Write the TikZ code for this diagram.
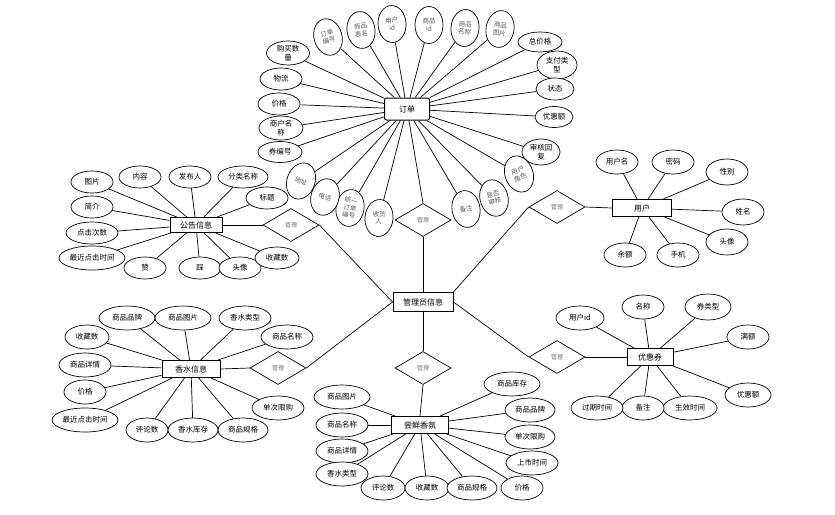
\documentclass[tikz,border=0pt]{standalone}
\usepackage{fontspec}
\newfontfamily\cjk{Noto Sans CJK SC}
\usetikzlibrary{shapes.geometric}
\pgfdeclarelayer{bg}
\pgfsetlayers{bg,main}
\begin{document}
\begin{tikzpicture}[x=1pt,y=-1pt,
 ent/.style={draw,line width=1pt,fill=white,inner sep=0,font=\cjk\fontsize{8}{9}\selectfont},
 attr/.style 2 args={ellipse,draw,line width=0.7pt,fill=white,inner sep=0,minimum width=#1pt,minimum height=#2pt,align=center,font=\cjk\fontsize{7.5}{8.5}\selectfont},
 vat/.style={ellipse,draw,line width=0.7pt,fill=white,inner sep=0,minimum width=28pt,minimum height=37pt,align=center,text=black!65,font=\cjk\fontsize{6.5}{7.5}\selectfont},
 rel/.style={diamond,draw,line width=0.7pt,fill=white,inner sep=0,minimum width=56pt,minimum height=33pt,text=black!55,font=\cjk\fontsize{6}{7}\selectfont},
 ln/.style={line width=0.7pt}]
\useasboundingbox (0,0) rectangle (835,514);

% ---------- entities ----------
\node[ent,rounded corners=2pt,minimum width=45pt,minimum height=22pt] (order) at (407,109) {订单};
\node[ent,minimum width=60pt,minimum height=19pt] (admin) at (423,302) {管理员信息};
\node[ent,minimum width=52pt,minimum height=15pt] (notice) at (196,225) {公告信息};
\node[ent,minimum width=59pt,minimum height=17pt] (user) at (642,208) {用户};
\node[ent,minimum width=58pt,minimum height=17pt] (perf) at (191,369) {香水信息};
\node[ent,minimum width=57pt,minimum height=17pt] (trial) at (420,425) {尝鲜香氛};
\node[ent,minimum width=46pt,minimum height=17pt] (coupon) at (650,357) {优惠券};

% ---------- relations ----------
\node[rel] (d1) at (423,220) {管理};
\node[rel] (d2) at (291,225) {管理};
\node[rel] (d3) at (557,207) {管理};
\node[rel] (d4) at (278,368) {管理};
\node[rel] (d5) at (423,368) {管理};
\node[rel] (d6) at (557,357) {管理};

% ---------- order attributes ----------
\node[vat,rotate=15] (o1) at (328,37) {订单\\编号};
\node[vat,rotate=8] (o2) at (361,30) {商品\\表名};
\node[vat,rotate=3] (o3) at (392,24) {用户\\id};
\node[vat] (o4) at (429,25) {商品\\id};
\node[vat,rotate=-5] (o5) at (465,28) {商品\\名称};
\node[vat,rotate=-10] (o6) at (500,29) {商品\\图片};
\node[attr={44}{20}] (o7) at (540,42) {总价格};
\node[attr={40}{28}] (o8) at (557,65) {支付类\\型};
\node[attr={38}{22}] (o9) at (555,89) {状态};
\node[attr={38}{21}] (o10) at (554,117) {优惠额};
\node[attr={38}{26}] (o11) at (541,152) {审核回\\复};
\node[vat,rotate=20] (o12) at (519,174) {用户\\角色};
\node[vat,rotate=15] (o13) at (494,198) {是否\\审核};
\node[vat,rotate=10] (o14) at (466,209) {备注};
\node[vat,rotate=-5] (o15) at (379,218) {收货\\人};
\node[vat,rotate=-10] (o16) at (350,208) {统一\\订单\\编号};
\node[vat,rotate=-15] (o17) at (325,197) {电话};
\node[vat,rotate=-20] (o18) at (301,181) {地址};
\node[attr={44}{21}] (o19) at (280,152) {券编号};
\node[attr={44}{24}] (o20) at (281,128) {商户名\\称};
\node[attr={42}{22}] (o21) at (279,104) {价格};
\node[attr={42}{22}] (o22) at (281,79) {物流};
\node[attr={43}{24}] (o23) at (288,53) {购买数\\量};

% ---------- notice attributes ----------
\node[attr={42}{22}] (n1) at (92,182) {图片};
\node[attr={42}{22}] (n2) at (140,177) {内容};
\node[attr={42}{22}] (n3) at (190,177) {发布人};
\node[attr={50}{22}] (n4) at (243,177) {分类名称};
\node[attr={42}{22}] (n5) at (267,198) {标题};
\node[attr={42}{22}] (n6) at (92,207) {简介};
\node[attr={52}{22}] (n7) at (92,233) {点击次数};
\node[attr={66}{24}] (n8) at (92,258) {最近点击时间};
\node[attr={42}{22}] (n9) at (145,268) {赞};
\node[attr={42}{22}] (n10) at (200,268) {踩};
\node[attr={42}{22}] (n11) at (240,268) {头像};
\node[attr={44}{22}] (n12) at (277,258) {收藏数};

% ---------- user attributes ----------
\node[attr={42}{24}] (u1) at (617,162) {用户名};
\node[attr={42}{24}] (u2) at (673,162) {密码};
\node[attr={42}{26}] (u3) at (727,172) {性别};
\node[attr={42}{26}] (u4) at (743,212) {姓名};
\node[attr={42}{26}] (u5) at (727,242) {头像};
\node[attr={42}{24}] (u6) at (678,255) {手机};
\node[attr={42}{24}] (u7) at (625,255) {余额};

% ---------- perfume attributes ----------
\node[attr={56}{24}] (p1) at (127,318) {商品品牌};
\node[attr={56}{24}] (p2) at (183,318) {商品图片};
\node[attr={52}{24}] (p3) at (245,318) {香水类型};
\node[attr={52}{24}] (p4) at (287,337) {商品名称};
\node[attr={44}{24}] (p5) at (87,337) {收藏数};
\node[attr={52}{24}] (p6) at (85,365) {商品详情};
\node[attr={42}{24}] (p7) at (85,392) {价格};
\node[attr={66}{24}] (p8) at (85,420) {最近点击时间};
\node[attr={42}{24}] (p9) at (147,430) {评论数};
\node[attr={50}{24}] (p10) at (193,430) {香水库存};
\node[attr={50}{24}] (p11) at (243,430) {商品规格};
\node[attr={52}{24}] (p12) at (278,408) {单次限购};

% ---------- trial attributes ----------
\node[attr={56}{24}] (t1) at (342,397) {商品图片};
\node[attr={52}{24}] (t2) at (342,425) {商品名称};
\node[attr={52}{24}] (t3) at (342,451) {商品详情};
\node[attr={52}{24}] (t4) at (342,474) {香水类型};
\node[attr={44}{24}] (t5) at (383,488) {评论数};
\node[attr={44}{24}] (t6) at (427,488) {收藏数};
\node[attr={50}{24}] (t7) at (472,488) {商品规格};
\node[attr={42}{24}] (t8) at (522,488) {价格};
\node[attr={52}{24}] (t9) at (532,463) {上市时间};
\node[attr={50}{24}] (t10) at (530,437) {单次限购};
\node[attr={50}{24}] (t11) at (530,410) {商品品牌};
\node[attr={56}{24}] (t12) at (512,384) {商品库存};

% ---------- coupon attributes ----------
\node[attr={48}{24}] (c1) at (580,318) {用户id};
\node[attr={42}{24}] (c2) at (643,307) {名称};
\node[attr={46}{26}] (c3) at (708,307) {券类型};
\node[attr={42}{24}] (c4) at (748,337) {满额};
\node[attr={46}{24}] (c5) at (748,395) {优惠额};
\node[attr={54}{24}] (c6) at (690,408) {生效时间};
\node[attr={42}{24}] (c7) at (643,408) {备注};
\node[attr={52}{24}] (c8) at (597,408) {过期时间};

% ---------- connectors ----------
\begin{pgfonlayer}{bg}
\foreach \a in {o1,o2,o3,o4,o5,o6,o7,o8,o9,o10,o11,o12,o13,o14,o15,o16,o17,o18,o19,o20,o21,o22,o23}
  \draw[ln] (order) -- (\a);
\foreach \a in {n1,n2,n3,n4,n5,n6,n7,n8,n9,n10,n11,n12}
  \draw[ln] (notice) -- (\a);
\foreach \a in {u1,u2,u3,u4,u5,u6,u7}
  \draw[ln] (user) -- (\a);
\foreach \a in {p1,p2,p3,p4,p5,p6,p7,p8,p9,p10,p11,p12}
  \draw[ln] (perf) -- (\a);
\foreach \a in {t1,t2,t3,t4,t5,t6,t7,t8,t9,t10,t11,t12}
  \draw[ln] (trial) -- (\a);
\foreach \a in {c1,c2,c3,c4,c5,c6,c7,c8}
  \draw[ln] (coupon) -- (\a);
\draw[ln] (order) -- (d1.north);
\draw[ln] (d1.south) -- (admin.north);
\draw[ln] (notice.east) -- (d2.west);
\draw[ln] (d2.east) -- (admin.west);
\draw[ln] (user.west) -- (d3.east);
\draw[ln] (d3.west) -- (admin.north east);
\draw[ln] (perf.east) -- (d4.west);
\draw[ln] (d4.east) -- (admin.west);
\draw[ln] (admin.south) -- (d5.north);
\draw[ln] (d5.south) -- (trial.north);
\draw[ln] (admin.east) -- (d6.west);
\draw[ln] (d6.east) -- (coupon.west);
\end{pgfonlayer}
\end{tikzpicture}
\end{document}
